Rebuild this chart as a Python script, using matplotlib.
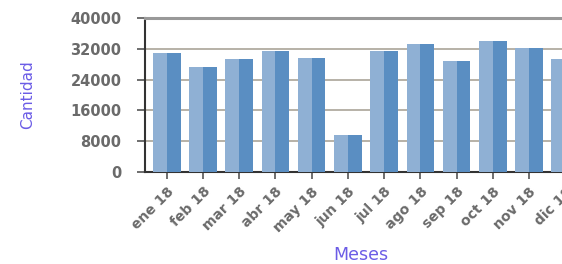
import matplotlib.pyplot as plt
import numpy as np

# monthly values
meses = ["ene 18", "feb 18", "mar 18", "abr 18", "may 18", "jun 18",
         "jul 18", "ago 18", "sep 18", "oct 18", "nov 18", "dic 18"]
cantidad = [30800, 27400, 29300, 31500, 29700, 9600,
            31500, 33200, 28800, 33900, 32100, 29300]
yticks = [0, 8000, 16000, 24000, 32000, 40000]

fig = plt.figure(figsize=(5.62, 2.64), dpi=100)
# the axes runs past the right edge, like the cropped original
ax = fig.add_axes([145 / 562, (264 - 172) / 264, 442 / 562, 154 / 264])

x = np.arange(len(meses))
w = 0.76
# two-tone bars: light left half, darker right half
ax.bar(x - w / 2, cantidad, width=w / 2, align="edge", color="#8fb0d4", zorder=3)
ax.bar(x, cantidad, width=w / 2, align="edge", color="#5a8ec2", zorder=3)

ax.set_xlim(-0.6, 11.6)
ax.set_ylim(0, 40000)
ax.set_yticks(yticks)
ax.set_xticks(x)
ax.set_xticklabels(meses, rotation=45, ha="right", rotation_mode="anchor")
ax.yaxis.grid(True, color="#aaa498", linewidth=1.2, zorder=0)

ax.tick_params(axis="both", colors="#555555", width=1.2)
ax.tick_params(axis="y", length=6, pad=11, labelsize=10.5)
ax.tick_params(axis="x", length=5, pad=4, labelsize=10)
for lab in ax.get_xticklabels() + ax.get_yticklabels():
    lab.set_fontweight("bold")
    lab.set_color("#6a6a6a")

ax.spines["top"].set_color("#999999")
ax.spines["top"].set_linewidth(2.2)
ax.spines["left"].set_color("#333333")
ax.spines["left"].set_linewidth(1.5)
ax.spines["bottom"].set_color("#333333")
ax.spines["bottom"].set_linewidth(1.5)
ax.spines["right"].set_visible(False)

fig.text(28 / 562, 1 - 95 / 264, "Cantidad", rotation=90, color="#6b5ce6",
         fontsize=11, ha="center", va="center")
fig.text(361 / 562, 1 - 255 / 264, "Meses", color="#6b5ce6",
         fontsize=12.5, ha="center", va="center")

fig.savefig("out.png", dpi=100)
